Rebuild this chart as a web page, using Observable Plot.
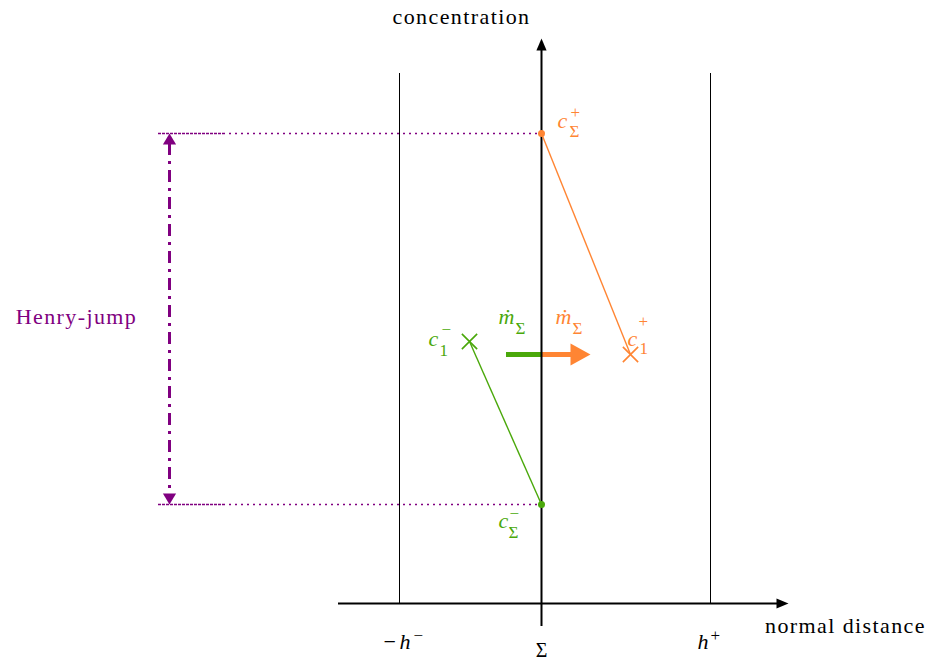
<!DOCTYPE html>
<html>
<head>
<meta charset="utf-8">
<script src="https://cdn.jsdelivr.net/npm/d3@7"></script>
<script src="https://cdn.jsdelivr.net/npm/@observablehq/plot@0.6"></script>
<style>
  body { margin: 0; background: #fff; }
</style>
</head>
<body>
<div id="chart"></div>
<script>
// ---------- data (schematic units: Σ at x = 0, normal-distance axis at y = 0) ----------
const axisX = [-2.03, 2.47];          // normal distance axis extent (tip at right)
const axisY = [-0.23, 5.65];          // concentration axis extent (tip at top)
const walls = [-1.42, 1.69];          // -h^- and h^+
const wallTop = 5.30;
const cSigmaPlus = 4.70;              // c_Σ^+ at the interface
const cSigmaMinus = 0.99;             // c_Σ^- at the interface
const c1Minus = [-0.72, 2.62];        // c_1^- (x, concentration)
const c1Plus = [0.89, 2.49];          // c_1^+ (x, concentration)
const fluxY = 2.49;                   // level of the ṁ_Σ arrows
const fluxGreen = [-0.35, 0];
const fluxOrange = [0, 0.49];
const henryX = -3.72;                 // Henry-jump marker
const guideX = [-3.83, -3.18, 0];     // guide lines: start, end of dense part, interface
const axisTitles = ["normal distance", "concentration"];
const henryLabel = "Henry-jump";

// ---------- styles ----------
const orange = "#ff8533";
const green = "#4aa80a";
const purple = "#800080";
const black = "#000";
const serif = "'Liberation Serif', serif";

// arrow-head symbols: tip at the origin, pointing up
const head = (len, half) => ({
  draw(ctx, size) {
    const r = Math.sqrt(size / Math.PI);
    ctx.moveTo(0, 0);
    ctx.lineTo(half * r, len * r);
    ctx.lineTo(-half * r, len * r);
    ctx.closePath();
  }
});
const latexHead = head(2, 0.85);
const fluxHead = head(2, 1.1);
const henryHead = head(2, 1.2);

const T = (x, y, s, o = {}) =>
  Plot.text([s], {x, y, text: d => d, lineAnchor: "bottom", textAnchor: "start", fontSize: 22,
                  fontFamily: serif, fill: black, ...o});

const it = {fontStyle: "italic"};
const small = {fontSize: 17};

const chart = Plot.plot({
  width: 934,
  height: 660,
  margin: 0,
  x: {domain: [-5.41, 3.93], axis: null},
  y: {domain: [-0.57, 6.03], axis: null},
  style: {background: "#fff", overflow: "visible"},
  marks: [
    // Henry-jump guides
    Plot.ruleY([cSigmaPlus, cSigmaMinus], {x1: guideX[0], x2: guideX[1], stroke: purple, strokeWidth: 1.5, strokeDasharray: "3,1"}),
    Plot.ruleY([cSigmaPlus, cSigmaMinus], {x1: guideX[1], x2: guideX[2], stroke: purple, strokeWidth: 1.5, strokeDasharray: "2,4"}),
    // Henry-jump double arrow
    Plot.ruleX([henryX], {y1: cSigmaPlus - 0.1, y2: cSigmaMinus + 0.1, stroke: purple, strokeWidth: 3, strokeDasharray: "12,6,3,6"}),
    Plot.dot([henryX], {x: d => d, y: cSigmaPlus, symbol: henryHead, r: 5.5, fill: purple, stroke: "none", rotate: 0}),
    Plot.dot([henryX], {x: d => d, y: cSigmaMinus, symbol: henryHead, r: 5.5, fill: purple, stroke: "none", rotate: 180}),
    T(henryX, (cSigmaPlus + cSigmaMinus) / 2, henryLabel, {textAnchor: "middle", dx: -93, dy: 5, fill: purple}),

    // walls at -h^- and h^+
    Plot.ruleX(walls, {x: d => d, y1: 0, y2: wallTop, stroke: black, strokeWidth: 1}),

    // flux arrows ṁ_Σ
    Plot.ruleY([fluxY], {x1: fluxGreen[0], x2: fluxGreen[1], stroke: green, strokeWidth: 5}),
    Plot.ruleY([fluxY], {x1: fluxOrange[0], x2: fluxOrange[1] - 0.19, stroke: orange, strokeWidth: 5}),
    Plot.dot([fluxOrange[1]], {x: d => d, y: fluxY, symbol: fluxHead, r: 10, fill: orange, stroke: "none", rotate: 90}),

    // axes
    Plot.ruleY([0], {x1: axisX[0], x2: axisX[1] - 0.08, stroke: black, strokeWidth: 2}),
    Plot.dot([axisX[1]], {x: d => d, y: 0, symbol: latexHead, r: 6, fill: black, stroke: "none", rotate: 90}),
    Plot.ruleX([0], {y1: axisY[0], y2: axisY[1] - 0.08, stroke: black, strokeWidth: 2}),
    Plot.dot([axisY[1]], {x: 0, y: d => d, symbol: latexHead, r: 6, fill: black, stroke: "none", rotate: 0}),

    // concentration profiles
    Plot.link([c1Plus], {x1: 0, y1: cSigmaPlus, x2: d => d[0], y2: d => d[1], stroke: orange, strokeWidth: 1.4}),
    Plot.link([c1Minus], {x1: d => d[0], y1: d => d[1], x2: 0, y2: cSigmaMinus, stroke: green, strokeWidth: 1.4}),
    Plot.dot([cSigmaPlus], {x: 0, y: d => d, r: 3.5, fill: orange, stroke: "none"}),
    Plot.dot([cSigmaMinus], {x: 0, y: d => d, r: 3.5, fill: green, stroke: "none"}),
    Plot.dot([c1Plus], {x: d => d[0], y: d => d[1], symbol: "times", r: 7, stroke: orange, strokeWidth: 1.6}),
    Plot.dot([c1Minus], {x: d => d[0], y: d => d[1], symbol: "times", r: 7, stroke: green, strokeWidth: 1.6}),

    // c_Σ^+
    T(0, cSigmaPlus, "c", {...it, dx: 16, dy: -6, fill: orange}),
    T(0, cSigmaPlus, "Σ", {...small, dx: 28, dy: 3, fill: orange}),
    T(0, cSigmaPlus, "+", {...small, dx: 29, dy: -16, fill: orange}),
    // c_Σ^-
    T(0, cSigmaMinus, "c", {...it, dx: -43, dy: 23, fill: green}),
    T(0, cSigmaMinus, "Σ", {...small, dx: -33, dy: 33, fill: green}),
    T(0, cSigmaMinus, "−", {...small, dx: -32, dy: 14, fill: green}),
    // c_1^-
    T(c1Minus[0], c1Minus[1], "c", {...it, dx: -41, dy: 4, fill: green}),
    T(c1Minus[0], c1Minus[1], "1", {...small, dx: -30, dy: 14, fill: green}),
    T(c1Minus[0], c1Minus[1], "−", {...small, dx: -28, dy: -7, fill: green}),
    // c_1^+
    T(c1Plus[0], c1Plus[1], "c", {...it, dx: -3, dy: -9, fill: orange}),
    T(c1Plus[0], c1Plus[1], "1", {...small, dx: 9, dy: -1, fill: orange}),
    T(c1Plus[0], c1Plus[1], "+", {...small, dx: 8, dy: -28, fill: orange}),
    // ṁ_Σ labels
    T(0, fluxY, "ṁ", {...it, dx: -43, dy: -31, fill: green}),
    T(0, fluxY, "Σ", {...small, dx: -26, dy: -21, fill: green}),
    T(0, fluxY, "ṁ", {...it, dx: 14, dy: -31, fill: orange}),
    T(0, fluxY, "Σ", {...small, dx: 31, dy: -21, fill: orange}),

    // tick labels
    T(walls[0], 0, "−", {dx: -16, dy: 45}),
    T(walls[0], 0, "h", {...it, dx: 0, dy: 45}),
    T(walls[0], 0, "−", {...small, dx: 14, dy: 37}),
    T(0, 0, "Σ", {textAnchor: "middle", fontSize: 20, dy: 53}),
    T(walls[1], 0, "h", {...it, dx: -13, dy: 45}),
    T(walls[1], 0, "+", {...small, dx: 0, dy: 37}),

    // axis titles
    T(axisX[1], 0, axisTitles[0], {textAnchor: "middle", dx: 57, dy: 29}),
    T(0, axisY[1], axisTitles[1], {textAnchor: "middle", dx: -80, dy: -15})
  ]
});

d3.select(chart).selectAll("text")
  .filter(function () { return this.textContent.length > 3; })
  .attr("letter-spacing", "1.4px");

document.getElementById("chart").appendChild(chart);
</script>
</body>
</html>
